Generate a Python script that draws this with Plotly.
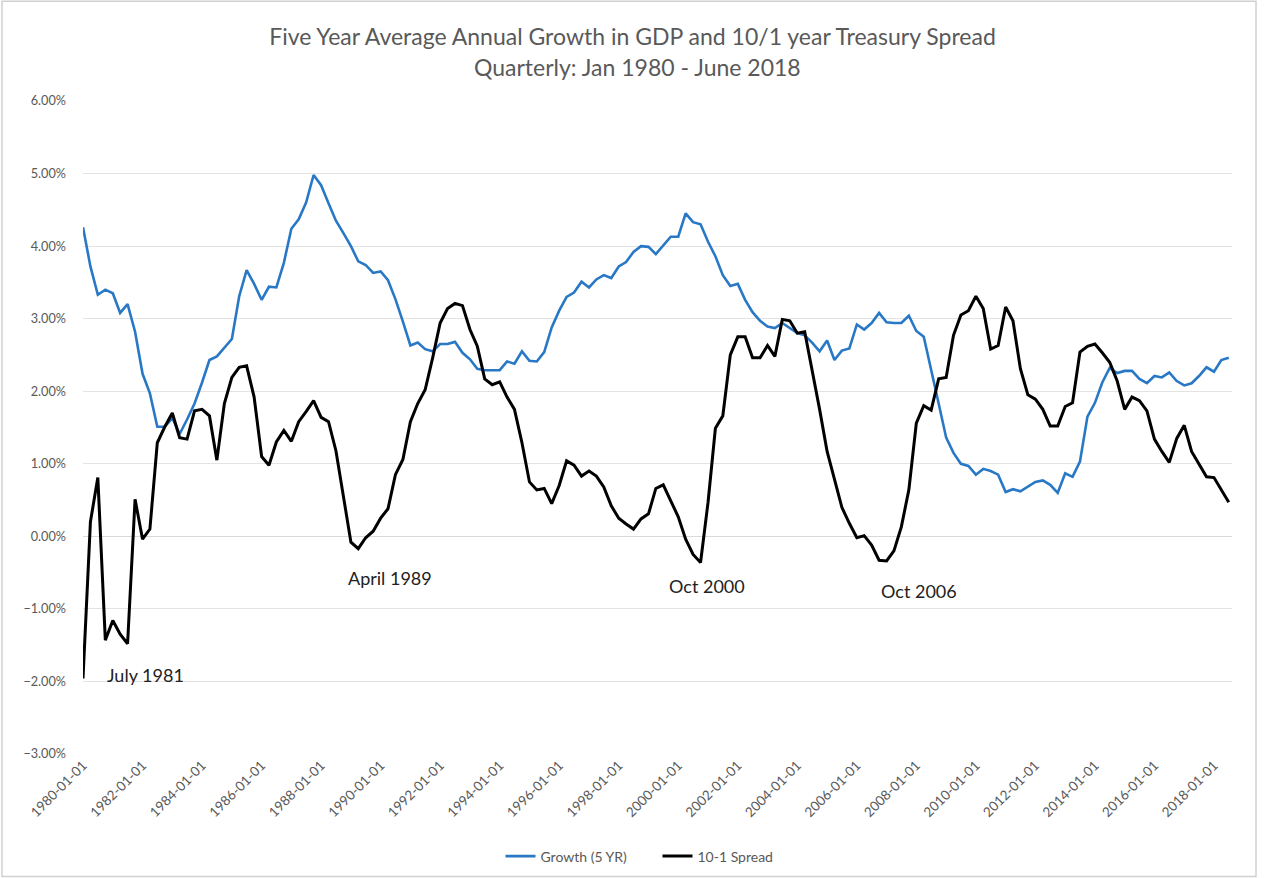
import pandas as pd
import plotly.graph_objects as go

# Quarterly observations, 1980-01-01 .. 2018-07-01
dates = pd.date_range("1980-01-01", periods=155, freq="QS")

growth_5yr = [
    4.26, 3.72, 3.33, 3.40, 3.35, 3.08, 3.20, 2.82, 2.24, 1.97,
    1.51, 1.51, 1.63, 1.41, 1.61, 1.83, 2.12, 2.43, 2.48, 2.60,
    2.72, 3.31, 3.67, 3.48, 3.26, 3.44, 3.43, 3.77, 4.24, 4.37,
    4.60, 4.98, 4.84, 4.59, 4.35, 4.18, 4.00, 3.79, 3.74, 3.63,
    3.65, 3.53, 3.27, 2.96, 2.63, 2.67, 2.58, 2.55, 2.65, 2.65,
    2.68, 2.53, 2.44, 2.31, 2.29, 2.29, 2.29, 2.41, 2.38, 2.55,
    2.42, 2.41, 2.54, 2.88, 3.11, 3.30, 3.36, 3.51, 3.43, 3.54,
    3.60, 3.56, 3.72, 3.78, 3.92, 4.00, 3.99, 3.89, 4.01, 4.13,
    4.13, 4.45, 4.33, 4.30, 4.06, 3.86, 3.60, 3.45, 3.48, 3.26,
    3.09, 2.97, 2.89, 2.87, 2.94, 2.87, 2.80, 2.77, 2.67, 2.55,
    2.70, 2.43, 2.56, 2.59, 2.92, 2.85, 2.94, 3.08, 2.95, 2.94,
    2.94, 3.04, 2.83, 2.75, 2.31, 1.83, 1.36, 1.15, 1.00, 0.97,
    0.85, 0.93, 0.90, 0.85, 0.61, 0.65, 0.62, 0.68, 0.75, 0.77,
    0.71, 0.60, 0.87, 0.82, 1.03, 1.65, 1.84, 2.12, 2.32, 2.25,
    2.28, 2.28, 2.17, 2.11, 2.21, 2.19, 2.26, 2.14, 2.08, 2.11,
    2.21, 2.33, 2.27, 2.43, 2.46,
]

spread_10_1 = [
    -1.96, 0.20, 0.81, -1.43, -1.16, -1.35, -1.48, 0.51, -0.04, 0.10,
    1.29, 1.51, 1.70, 1.36, 1.34, 1.73, 1.75, 1.66, 1.05, 1.83,
    2.19, 2.33, 2.35, 1.92, 1.10, 0.98, 1.30, 1.46, 1.31, 1.58,
    1.72, 1.87, 1.64, 1.58, 1.18, 0.56, -0.08, -0.17, -0.02, 0.07,
    0.25, 0.38, 0.85, 1.06, 1.58, 1.83, 2.02, 2.46, 2.94, 3.14,
    3.21, 3.18, 2.85, 2.62, 2.17, 2.09, 2.13, 1.92, 1.75, 1.29,
    0.75, 0.64, 0.66, 0.45, 0.70, 1.04, 0.98, 0.83, 0.90, 0.83,
    0.68, 0.42, 0.25, 0.17, 0.10, 0.24, 0.31, 0.66, 0.71, 0.49,
    0.27, -0.04, -0.25, -0.36, 0.47, 1.49, 1.66, 2.50, 2.75, 2.75,
    2.46, 2.46, 2.63, 2.48, 2.99, 2.97, 2.80, 2.82, 2.31, 1.75,
    1.17, 0.78, 0.40, 0.18, -0.02, 0.01, -0.12, -0.33, -0.34, -0.20,
    0.13, 0.64, 1.56, 1.80, 1.74, 2.17, 2.19, 2.77, 3.05, 3.11,
    3.31, 3.14, 2.58, 2.63, 3.16, 2.97, 2.31, 1.95, 1.89, 1.75,
    1.52, 1.52, 1.79, 1.84, 2.54, 2.62, 2.65, 2.53, 2.40, 2.14,
    1.75, 1.92, 1.87, 1.73, 1.34, 1.17, 1.02, 1.35, 1.53, 1.17,
    1.00, 0.82, 0.81, 0.65, 0.47,
]

tick_dates = [f"{y}-01-01" for y in range(1980, 2019, 2)]
tick_labels = [f"{y}-01-01" for y in range(1980, 2019, 2)]

event_labels = ["July 1981", "April 1989", "Oct 2000", "Oct 2006"]
event_x = ["1982-02-01", "1990-05-01", "2000-12-15", "2008-02-01"]
event_y = [-1.91, -0.57, -0.69, -0.75]

FONT = "Lato"
GRAY = "#595959"

fig = go.Figure()
fig.add_trace(go.Scatter(
    x=dates, y=growth_5yr, mode="lines", name="Growth (5 YR)",
    line=dict(color="#2878C6", width=2.6),
))
fig.add_trace(go.Scatter(
    x=dates, y=spread_10_1, mode="lines", name="10-1 Spread",
    line=dict(color="#000000", width=3),
))

for txt, ex, ey in zip(event_labels, event_x, event_y):
    fig.add_annotation(x=ex, y=ey, text=txt, showarrow=False,
                       font=dict(family=FONT, size=18, color="#222222"),
                       xanchor="center", yanchor="middle")

fig.add_annotation(xref="paper", yref="paper", x=0.4826, y=1.052,
                   text="Quarterly: Jan 1980 - June 2018", showarrow=False,
                   font=dict(family=FONT, size=23, color=GRAY),
                   xanchor="center", yanchor="middle")

fig.add_shape(type="rect", xref="paper", yref="paper",
              x0=-0.0705, x1=1.0209, y0=-0.1875, y1=1.1528,
              line=dict(color="#d0d0d0", width=1.5), layer="below")

fig.update_layout(
    width=1265, height=878,
    margin=dict(l=83, r=33, t=101, b=124, autoexpand=False),
    paper_bgcolor="white", plot_bgcolor="white",
    title=dict(text="Five Year Average Annual Growth in GDP and 10/1 year Treasury Spread",
               x=0.5, xref="container", xanchor="center",
               y=1 - 37 / 878, yref="container", yanchor="middle",
               font=dict(family=FONT, size=23, color=GRAY)),
    font=dict(family=FONT, color=GRAY, size=13),
    showlegend=True,
    legend=dict(orientation="h", x=0.5, xanchor="center", y=-0.157, yanchor="middle",
                font=dict(family=FONT, size=14, color=GRAY), itemwidth=30,
                entrywidth=112, bgcolor="rgba(0,0,0,0)"),
    xaxis=dict(
        range=["1980-01-01", "2018-08-10"], automargin=False,
        tickmode="array", tickvals=tick_dates, ticktext=tick_labels,
        tickangle=-45, tickfont=dict(family=FONT, size=13.5, color=GRAY),
        showgrid=False, zeroline=False, showline=False, ticks="",
    ),
    yaxis=dict(
        range=[-3, 6], dtick=1, tick0=-3, tickformat=".2f", ticksuffix="%",
        automargin=False,
        tickfont=dict(family=FONT, size=12.7, color=GRAY),
        showgrid=True, gridcolor="#e3e3e3", gridwidth=1,
        zeroline=True, zerolinecolor="#d9d9d9", zerolinewidth=1,
        showline=False, ticklabelstandoff=16,
    ),
)

fig.write_html("out.html")
